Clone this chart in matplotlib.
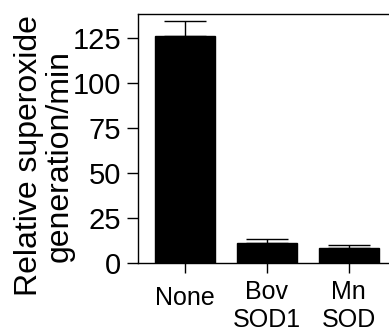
import matplotlib.pyplot as plt
import matplotlib.transforms as mtransforms

# 数据
categories = ['None', 'Bov\nSOD1', 'Mn\nSOD']
values = [126.4, 11.0, 8.2]
errors = [8.5, 2.2, 1.8]
yticks = [0, 25, 50, 75, 100, 125]

plt.rcParams['font.family'] = ['Liberation Sans', 'DejaVu Sans']

fig = plt.figure(figsize=(3.89, 3.35), dpi=100)
# 坐标轴右边界超出图像，和原图一样被裁掉
ax = fig.add_axes([138 / 389, 1 - 263 / 335, 260 / 389, 249 / 335])

x = range(len(categories))
ax.bar(x, values, width=0.73, color='black', edgecolor='black')
ax.errorbar(x, values, yerr=[[0, 0, 0], errors], fmt='none', ecolor='black',
            elinewidth=1, capsize=15, capthick=1)

ax.set_xlim(-0.573, 2.6)
ax.set_ylim(0, 138.6)
ax.set_yticks(yticks)
ax.set_xticks(list(x))
ax.set_xticklabels(categories, fontsize=18, linespacing=1.25)
ax.tick_params(axis='y', labelsize=21, length=8, width=1, pad=4)
ax.tick_params(axis='x', length=7, width=1, pad=5)

# None 标签稍微往下
lab = ax.get_xticklabels()[0]
lab.set_transform(lab.get_transform() +
                  mtransforms.ScaledTranslation(0, -6 / 100, fig.dpi_scale_trans))

for s in ax.spines.values():
    s.set_linewidth(1)

ax.set_ylabel('Relative superoxide\ngeneration/min', fontsize=23,
              linespacing=1.0)
ax.yaxis.set_label_coords(-0.245, 0.43)

fig.savefig('out.png', dpi=100)
